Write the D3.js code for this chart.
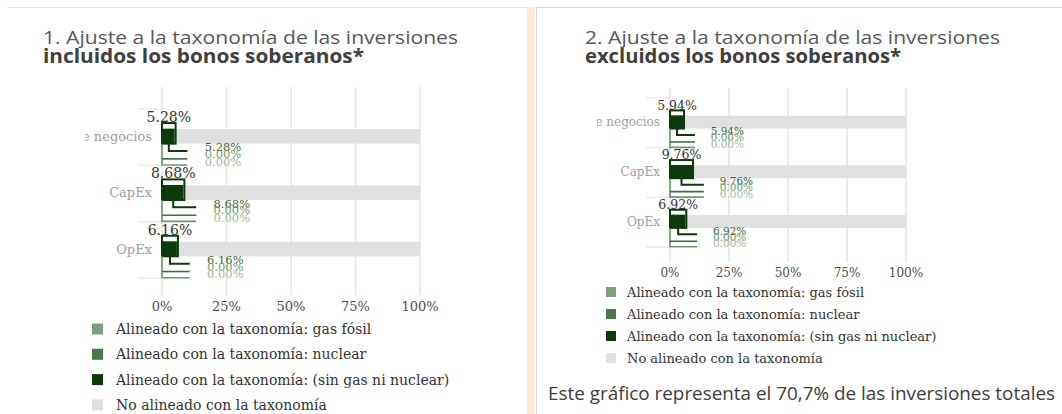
<!DOCTYPE html>
<html lang="es">
<head>
<meta charset="UTF-8">
<title>Ajuste a la taxonomía</title>
<style>
  * { margin: 0; padding: 0; }
  body { background: #fff; }
</style>
<script src="https://cdn.jsdelivr.net/npm/d3@7"></script>
</head>
<body>
<svg id="svg1" width="1062" height="414"></svg>
<script>
// datos
const categories = ["Volumen de negocios", "CapEx", "OpEx"];
const seriesNames = [
  "Alineado con la taxonomía: gas fósil",
  "Alineado con la taxonomía: nuclear",
  "Alineado con la taxonomía: (sin gas ni nuclear)",
  "No alineado con la taxonomía"
];
const seriesColors = ["#7d9f7d", "#4b784b", "#0c3a0c", "#e0e0e0"];
const ticks = [0, 25, 50, 75, 100];

// 1. incluidos los bonos soberanos
const inclGas = [0, 0, 0];
const inclNuclear = [0, 0, 0];
const inclSinGas = [5.28, 8.68, 6.16];
// 2. excluidos los bonos soberanos
const exclGas = [0, 0, 0];
const exclNuclear = [0, 0, 0];
const exclSinGas = [5.94, 9.76, 6.92];

const footnote = "Este gráfico representa el 70,7% de las inversiones totales";

const svg = d3.select("#svg1");
const serif = "'DejaVu Serif', serif";
const sans = "'Open Sans', 'Noto Sans', sans-serif";

// marcos
svg.append("line").attr("x1", 7).attr("x2", 527).attr("y1", 7.5).attr("y2", 7.5)
  .attr("stroke", "#f3e6da").attr("stroke-width", 1);
svg.append("rect").attr("x", 527).attr("y", 7).attr("width", 8).attr("height", 407).attr("fill", "#fbe9da");
svg.append("line").attr("x1", 536.5).attr("x2", 536.5).attr("y1", 7).attr("y2", 414)
  .attr("stroke", "#d6d6d6").attr("stroke-width", 1);
svg.append("line").attr("x1", 536).attr("x2", 1062).attr("y1", 7.5).attr("y2", 7.5)
  .attr("stroke", "#d9d9d9").attr("stroke-width", 1);

function panel(cfg) {
  const g = svg.append("g");

  // título
  g.append("text").attr("x", cfg.tx).attr("y", 44)
    .attr("font-family", sans).attr("font-size", 19).attr("fill", "#595959")
    .attr("textLength", cfg.t1w).attr("lengthAdjust", "spacingAndGlyphs")
    .text(cfg.title1);
  g.append("text").attr("x", cfg.tx).attr("y", 63)
    .attr("font-family", sans).attr("font-size", 19).attr("font-weight", "bold").attr("fill", "#404040")
    .attr("textLength", cfg.t2w).attr("lengthAdjust", "spacingAndGlyphs")
    .text(cfg.title2);

  const x = d3.scaleLinear().domain([0, 100]).range([cfg.x0, cfg.x1]);
  const y = d3.scaleBand().domain(categories).range([cfg.yb0, cfg.yb1]).padding(0);
  const bw = y.bandwidth();
  const dx = v => x(v) - x(0);

  // rejilla vertical
  g.append("g").selectAll("line").data(ticks).join("line")
    .attr("x1", d => x(d)).attr("x2", d => x(d))
    .attr("y1", cfg.gridTop).attr("y2", cfg.gridBottom)
    .attr("stroke", "#ebebeb").attr("stroke-width", 2);

  // separadores de categorías
  g.append("g").selectAll("line").data(categories.concat(["_end"])).join("line")
    .attr("x1", x(0) - 24).attr("x2", x(0))
    .attr("y1", (d, i) => cfg.yb0 + i * bw).attr("y2", (d, i) => cfg.yb0 + i * bw)
    .attr("stroke", "#ebebeb").attr("stroke-width", 1.5);

  // etiquetas del eje x
  g.append("g").selectAll("text").data(ticks).join("text")
    .attr("x", d => x(d)).attr("y", cfg.tickY)
    .attr("text-anchor", "middle").attr("font-family", serif).attr("font-size", cfg.fs)
    .attr("fill", "#4d4d4d").text(d => d + "%");

  // etiquetas del eje y (recortadas a la izquierda)
  const clipId = "clip" + cfg.id;
  svg.append("clipPath").attr("id", clipId).append("rect")
    .attr("x", cfg.clipX).attr("y", 0).attr("width", 600).attr("height", 414);
  g.append("g").attr("clip-path", `url(#${clipId})`)
    .selectAll("text").data(categories).join("text")
    .attr("x", x(0) - 10).attr("y", d => y(d) + bw * 0.487)
    .attr("dy", "0.35em").attr("text-anchor", "end")
    .attr("font-family", serif).attr("font-size", cfg.fs).attr("fill", "#a0a0a0")
    .text(d => d);

  const rows = categories.map((c, i) => ({
    c, gas: cfg.gas[i], nuc: cfg.nuc[i], sin: cfg.sin[i]
  }));

  rows.forEach(r => {
    const top = y(r.c);
    const aligned = r.gas + r.nuc + r.sin;
    const boxTop = top + bw * 0.25;
    const grayTop = top + bw * 0.357;
    const barBot = top + bw * 0.615;
    const l1 = top + bw * 0.745, l2 = top + bw * 0.885, l3 = top + bw * 0.995;
    const lineEnd = x(aligned) + dx(4.6);

    // barra gris (no alineado)
    g.append("rect").attr("x", x(aligned)).attr("y", grayTop)
      .attr("width", x(100) - x(aligned)).attr("height", barBot - grayTop)
      .attr("fill", seriesColors[3]);

    // caja alineada
    g.append("rect").attr("x", x(0)).attr("y", boxTop)
      .attr("width", dx(aligned)).attr("height", barBot - boxTop)
      .attr("fill", "#fff").attr("stroke", seriesColors[2]).attr("stroke-width", 2);
    g.append("rect").attr("x", x(0)).attr("y", boxTop + (barBot - boxTop) * 0.27)
      .attr("width", dx(aligned) - 1).attr("height", (barBot - boxTop) * 0.73)
      .attr("fill", seriesColors[2]);

    // etiqueta superior
    g.append("text").attr("x", x(aligned / 2)).attr("y", top + bw * 0.145)
      .attr("dy", "0.35em").attr("text-anchor", "middle")
      .attr("font-family", serif).attr("font-size", cfg.fsTop).attr("fill", "#333")
      .text(aligned.toFixed(2) + "%");

    // líneas guía
    g.append("path")
      .attr("d", `M${x(0)},${barBot}V${l3}H${lineEnd}`)
      .attr("fill", "none").attr("stroke", "#6f976f").attr("stroke-width", 1.6);
    g.append("path")
      .attr("d", `M${x(0)},${l2}H${lineEnd}`)
      .attr("fill", "none").attr("stroke", "#3f6f3f").attr("stroke-width", 1.6);
    g.append("path")
      .attr("d", `M${x(aligned / 2)},${barBot}V${l1}H${lineEnd}`)
      .attr("fill", "none").attr("stroke", seriesColors[2]).attr("stroke-width", 2);

    // etiquetas pequeñas
    const lx = x(aligned) + dx(11.3);
    const vals = [r.sin, r.nuc, r.gas];
    const cols = ["#3d643d", "#759a75", "#9fb89f"];
    const ys = [0.68, 0.80, 0.935];
    vals.forEach((v, k) => {
      g.append("text").attr("x", lx).attr("y", top + bw * ys[k])
        .attr("dy", "0.35em").attr("font-family", serif).attr("font-size", cfg.fs2)
        .attr("fill", cols[k]).text(v.toFixed(2) + "%");
    });
  });

  // leyenda
  const lg = g.append("g").selectAll("g").data(seriesNames).join("g")
    .attr("transform", (d, i) => `translate(${cfg.legX},${cfg.legY + i * cfg.legStep})`);
  lg.append("rect").attr("x", 0).attr("y", -cfg.sq / 2).attr("width", cfg.sq).attr("height", cfg.sq)
    .attr("fill", (d, i) => seriesColors[i]);
  lg.append("text").attr("x", cfg.legTx).attr("dy", "0.35em")
    .attr("font-family", serif).attr("font-size", cfg.legFs).attr("fill", "#333")
    .text(d => d);
}

panel({
  id: 1, tx: 43, t1w: 415, t2w: 321,
  title1: "1. Ajuste a la taxonomía de las inversiones",
  title2: "incluidos los bonos soberanos*",
  x0: 162, x1: 420, yb0: 109, yb1: 278,
  gridTop: 87, gridBottom: 295, tickY: 311, clipX: 85,
  fs: 13, fsTop: 14, fs2: 11.5,
  gas: inclGas, nuc: inclNuclear, sin: inclSinGas,
  legX: 92, legY: 329, legStep: 25.3, sq: 11, legTx: 24, legFs: 14
});

panel({
  id: 2, tx: 585, t1w: 415, t2w: 316,
  title1: "2. Ajuste a la taxonomía de las inversiones",
  title2: "excluidos los bonos soberanos*",
  x0: 670, x1: 906, yb0: 98, yb1: 247,
  gridTop: 88, gridBottom: 262, tickY: 277, clipX: 597,
  fs: 12, fsTop: 12.5, fs2: 10.5,
  gas: exclGas, nuc: exclNuclear, sin: exclSinGas,
  legX: 606, legY: 292, legStep: 22, sq: 10, legTx: 21, legFs: 13
});

svg.append("text").attr("x", 548).attr("y", 400)
  .attr("font-family", sans).attr("font-size", 18).attr("fill", "#404040")
  .attr("textLength", 507).attr("lengthAdjust", "spacingAndGlyphs")
  .text(footnote);
</script>
</body>
</html>
